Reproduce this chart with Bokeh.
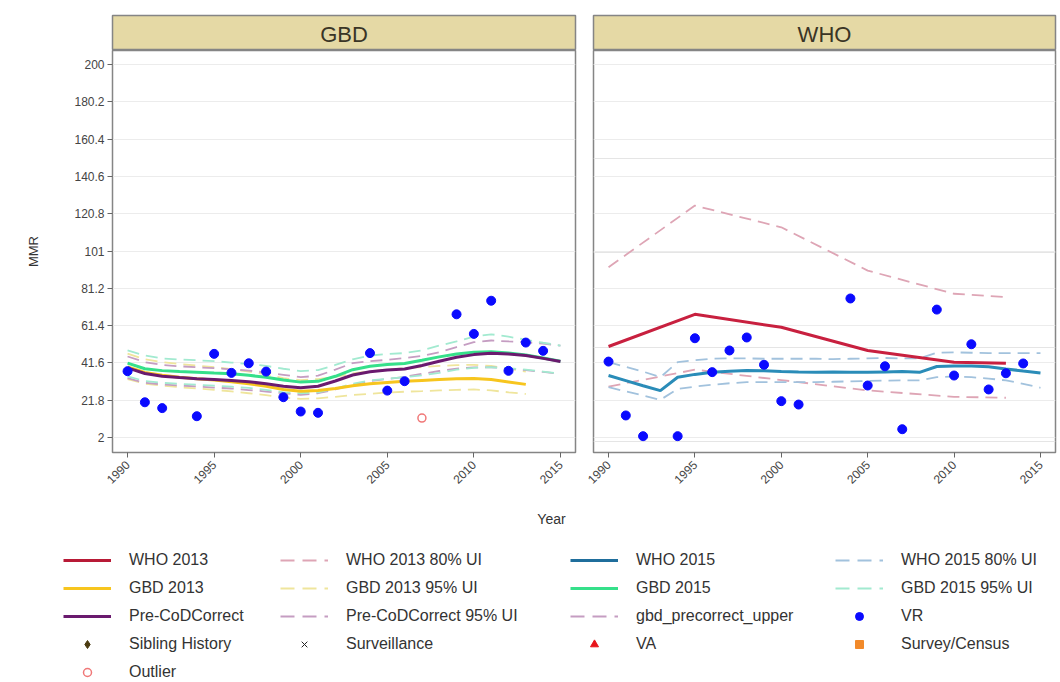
import math
from bokeh.plotting import figure
from bokeh.models import Range1d, FixedTicker, Label, Legend, LegendItem, Grid
from bokeh.layouts import column, row
from bokeh.embed import file_html
from bokeh.resources import INLINE

# ---------------- data ----------------
years = list(range(1990, 2016))
years_to_2013 = list(range(1990, 2014))

# GBD panel
pre_codcorrect = [39.0, 36.0, 34.5, 33.8, 33.2, 32.8, 32.3, 31.6, 30.5, 29.2, 28.4, 29.2, 32.0,
                  35.2, 36.9, 37.8, 38.4, 40.2, 42.5, 44.6, 46.0, 46.7, 46.3, 45.5, 44.0, 42.3]
pre_codcorrect_upper = [45.0, 42.0, 40.5, 39.8, 39.3, 38.8, 38.2, 37.5, 36.5, 35.3, 34.0, 34.8, 38.0,
                        41.5, 42.5, 43.2, 44.2, 45.3, 47.3, 50.0, 52.6, 53.5, 53.0, 52.6, 51.8, 50.8]
pre_codcorrect_lower = [33.5, 31.0, 30.2, 29.6, 29.1, 28.5, 28.0, 27.2, 26.4, 25.5, 24.6, 25.5, 27.5,
                        30.0, 32.0, 33.0, 34.2, 35.8, 37.3, 38.6, 39.2, 39.3, 38.6, 37.8, 36.8, 35.8]
gbd2015 = [41.5, 38.5, 37.5, 37.0, 36.7, 36.2, 35.8, 35.0, 34.0, 32.5, 31.4, 31.8, 34.5,
           38.0, 39.8, 40.8, 41.3, 43.0, 44.8, 46.3, 47.2, 47.5, 46.8, 45.8, 44.2, 42.5]
gbd2015_upper = [48.2, 45.5, 44.0, 43.4, 43.0, 42.5, 41.8, 41.0, 40.0, 38.5, 37.2, 37.8, 40.5,
                 43.5, 45.5, 46.3, 46.8, 48.2, 50.8, 53.0, 55.6, 56.8, 55.5, 53.9, 52.3, 50.8]
gbd2015_lower = [34.4, 32.0, 31.0, 30.5, 30.0, 29.5, 29.0, 28.3, 27.3, 26.0, 25.5, 26.0, 28.0,
                 30.5, 32.3, 33.2, 34.0, 35.0, 36.3, 38.0, 39.0, 39.3, 38.8, 38.0, 37.0, 35.8]
gbd2013 = [39.5, 36.5, 35.0, 34.0, 33.2, 32.5, 31.6, 30.5, 29.2, 27.5, 26.6, 27.0, 28.0,
           29.5, 30.5, 31.2, 31.8, 32.3, 32.8, 33.2, 33.3, 32.8, 31.5, 30.2]
gbd2013_upper = [46.5, 43.5, 42.0, 41.0, 40.2, 39.3, 38.3, 37.0, 35.5, 33.5, 32.5, 33.0, 34.2,
                 36.0, 37.2, 38.0, 38.8, 39.4, 40.0, 40.4, 40.6, 40.0, 38.5, 37.0]
gbd2013_lower = [33.0, 30.5, 29.5, 28.7, 28.0, 27.3, 26.5, 25.5, 24.5, 23.2, 22.5, 22.8, 23.6,
                 24.6, 25.2, 25.9, 26.3, 26.6, 27.0, 27.3, 27.5, 27.0, 26.0, 25.1]
gbd_vr_years = [1990, 1991, 1992, 1994, 1995, 1996, 1997, 1998, 1999, 2000, 2001, 2004, 2005,
                2006, 2009, 2010, 2011, 2012, 2013, 2014]
gbd_vr = [37.2, 20.7, 17.6, 13.3, 46.4, 36.3, 41.4, 37.0, 23.4, 15.8, 15.1, 46.8, 26.9,
          31.9, 67.4, 57.0, 74.6, 37.4, 52.4, 48.0]
gbd_outlier_years = [2007]
gbd_outlier = [12.3]

# WHO panel
who2013_years = [1990, 1995, 2000, 2005, 2010, 2013]
who2013 = [50.3, 67.4, 60.5, 48.2, 42.0, 41.4]
who2013_upper = [92.4, 125.1, 113.6, 90.6, 78.3, 76.5]
who2013_lower = [29.0, 38.0, 32.5, 27.0, 23.6, 23.1]
who2015 = [34.9, 32.2, 29.5, 26.9, 34.0, 35.5, 36.6, 37.2, 37.6, 37.4, 37.0, 36.8, 36.7,
           36.8, 36.7, 36.6, 36.8, 37.0, 36.6, 39.7, 40.0, 40.0, 39.6, 38.4, 37.3, 36.3]
who2015_upper = [42.0, 39.5, 37.0, 34.0, 42.0, 43.0, 43.8, 44.0, 44.0, 43.8, 43.8, 43.8, 43.8,
                 43.6, 43.8, 44.0, 44.2, 44.0, 44.0, 47.0, 47.2, 47.0, 46.8, 46.8, 46.8, 46.8]
who2015_lower = [28.7, 26.5, 24.3, 22.0, 27.8, 29.0, 30.0, 30.8, 31.4, 31.4, 31.4, 31.4, 31.4,
                 31.6, 31.8, 32.0, 32.2, 32.3, 32.3, 34.0, 34.4, 34.0, 33.3, 32.3, 30.5, 28.4]
who_vr_years = [1990, 1991, 1992, 1994, 1995, 1996, 1997, 1998, 1999, 2000, 2001, 2004, 2005,
                2006, 2007, 2009, 2010, 2011, 2012, 2013, 2014]
who_vr = [42.3, 13.7, 2.7, 2.7, 54.7, 36.7, 48.2, 55.1, 40.6, 21.3, 19.5, 75.8, 29.6,
          39.8, 6.4, 69.9, 34.9, 51.5, 27.5, 36.1, 41.3]

y_ticks = [2, 21.8, 41.6, 61.4, 81.2, 101, 120.8, 140.6, 160.4, 180.2, 200]
y_tick_labels = ["2", "21.8", "41.6", "61.4", "81.2", "101", "120.8", "140.6", "160.4", "180.2", "200"]
x_ticks = [1990, 1995, 2000, 2005, 2010, 2015]
x_tick_labels = ["1990", "1995", "2000", "2005", "2010", "2015"]
panel_titles = ["GBD", "WHO"]

# ---------------- styles ----------------
FONT = "Liberation Sans"
C_WHO13 = "#c8203f"
C_GBD13 = "#f7c51e"
C_PRE = "#6a1a6e"
C_WHO15 = "#2a8cb8"
C_GBD15 = "#35e08a"
C_WHO13_UI = "#dea5b5"
C_GBD13_UI = "#efe59c"
C_PRE_UI = "#c59dc2"
C_WHO15_UI = "#a2c2dd"
C_GBD15_UI = "#a2ead0"
C_VR = "#0a0aff"
C_OUT = "#f07878"
HEADER_BG = "#e5d9a5"
FRAME = "#858585"
GRID = "#ececec"
DASH = "12 7"
LEG_DASH = "14 8"

X0, X1 = 1989.13, 2015.87
Y0, Y1 = -5.96, 207.43
FRAME_H = 402
NAN = [float("nan")]


def style_common(p):
    p.outline_line_color = FRAME
    p.outline_line_width = 1.5
    xa = p.xaxis[0]
    xa.ticker = FixedTicker(ticks=x_ticks)
    xa.major_label_overrides = dict(zip(x_ticks, x_tick_labels))
    xa.major_label_orientation = math.pi / 4
    xa.major_label_text_font = FONT
    xa.major_label_text_font_size = "12px"
    xa.major_label_text_color = "#444444"
    xa.axis_line_color = FRAME
    xa.major_tick_line_color = "#666666"
    xa.major_tick_out = 5
    xa.major_tick_in = 0
    xa.minor_tick_line_color = None
    p.xgrid.visible = False


def make_panel(title, frame_w, left_b, right_b, show_y):
    hdr = figure(frame_width=frame_w, frame_height=35, x_range=Range1d(0, 1), y_range=Range1d(0, 1),
                 output_backend="svg", toolbar_location=None, x_axis_location=None, y_axis_location=None,
                 min_border_left=left_b, min_border_right=right_b, min_border_top=15, min_border_bottom=0,
                 background_fill_color=HEADER_BG, border_fill_color="white",
                 outline_line_color=FRAME, outline_line_width=1.5)
    hdr.grid.visible = False
    hdr.add_layout(Label(x=0.5, y=0.45, text=title, text_align="center", text_baseline="middle",
                         text_font=FONT, text_font_size="22px", text_color="#3a3526"))

    p = figure(frame_width=frame_w, frame_height=FRAME_H, x_range=Range1d(X0, X1), y_range=Range1d(Y0, Y1),
               output_backend="svg", toolbar_location=None,
               y_axis_location="left" if show_y else None,
               min_border_left=left_b, min_border_right=right_b, min_border_top=0, min_border_bottom=58,
               background_fill_color="white", border_fill_color="white")
    style_common(p)
    if show_y:
        ya = p.yaxis[0]
        ya.ticker = FixedTicker(ticks=y_ticks)
        ya.major_label_overrides = dict(zip(y_ticks, y_tick_labels))
        ya.major_label_text_font = FONT
        ya.major_label_text_font_size = "12px"
        ya.major_label_text_color = "#444444"
        ya.major_label_standoff = 3
        ya.axis_line_color = FRAME
        ya.major_tick_line_color = "#666666"
        ya.major_tick_out = 5
        ya.major_tick_in = 0
        ya.minor_tick_line_color = None
        ya.axis_label = "MMR"
        ya.axis_label_text_font = FONT
        ya.axis_label_text_font_size = "13px"
        ya.axis_label_text_font_style = "normal"
        ya.axis_label_text_color = "#333333"
        ya.axis_label_standoff = 30
        p.ygrid.grid_line_color = GRID
    else:
        p.add_layout(Grid(dimension=1, ticker=FixedTicker(ticks=y_ticks), grid_line_color=GRID))
    return hdr, p


hdr_l, p_l = make_panel(panel_titles[0], 463, 112, 9, True)
hdr_r, p_r = make_panel(panel_titles[1], 462, 9, 2, False)

# GBD panel glyphs
for ys, xs, c in [(gbd2013_upper, years_to_2013, C_GBD13_UI), (gbd2013_lower, years_to_2013, C_GBD13_UI),
                  (pre_codcorrect_lower, years, C_PRE_UI), (pre_codcorrect_upper, years, C_PRE_UI),
                  (gbd2015_lower, years, C_GBD15_UI), (gbd2015_upper, years, C_GBD15_UI)]:
    p_l.line(xs, ys, line_color=c, line_width=1.8, line_dash=DASH)
p_l.line(years_to_2013, gbd2013, line_color=C_GBD13, line_width=3)
p_l.line(years, gbd2015, line_color=C_GBD15, line_width=3)
p_l.line(years, pre_codcorrect, line_color=C_PRE, line_width=3)
p_l.scatter(gbd_vr_years, gbd_vr, marker="circle", size=9, fill_color=C_VR, line_color=C_VR)
p_l.scatter(gbd_outlier_years, gbd_outlier, marker="circle", size=8, fill_color=None,
            line_color=C_OUT, line_width=1.5)

# WHO panel glyphs
for ys, xs, c in [(who2013_upper, who2013_years, C_WHO13_UI), (who2013_lower, who2013_years, C_WHO13_UI),
                  (who2015_upper, years, C_WHO15_UI), (who2015_lower, years, C_WHO15_UI)]:
    p_r.line(xs, ys, line_color=c, line_width=1.8, line_dash=DASH)
p_r.line(who2013_years, who2013, line_color=C_WHO13, line_width=3)
p_r.line(years, who2015, line_color=C_WHO15, line_width=3)
p_r.scatter(who_vr_years, who_vr, marker="circle", size=9, fill_color=C_VR, line_color=C_VR)

# ---------------- legend ----------------
LW, LH = 1057, 170
leg = figure(width=LW, height=LH, x_range=Range1d(0, LW), y_range=Range1d(0, LH),
             output_backend="svg", toolbar_location=None, x_axis_location=None, y_axis_location=None,
             min_border=0, outline_line_color=None, background_fill_color="white",
             border_fill_color="white")
leg.grid.visible = False
leg.add_layout(Label(x=551, y=LH - 8, text="Year", text_align="center", text_baseline="middle",
                     text_font=FONT, text_font_size="14px", text_color="#333333"))


def lline(color, dash=False, width=3):
    if dash:
        return leg.line(x=NAN, y=NAN, line_color=color, line_width=1.8, line_dash=LEG_DASH)
    return leg.line(x=NAN, y=NAN, line_color=color, line_width=width)


def lmark(marker, color, size, fill=True, lw=1.0):
    return leg.scatter(x=NAN, y=NAN, marker=marker, size=size,
                       fill_color=color if fill else None, line_color=color, line_width=lw)


columns_spec = [
    (63, [("WHO 2013", lline("#b81a36")), ("GBD 2013", lline(C_GBD13)),
          ("Pre-CoDCorrect", lline(C_PRE)), ("Sibling History", lmark("diamond", "#4b3b10", 16)),
          ("Outlier", lmark("circle", C_OUT, 7, fill=False, lw=1.5))]),
    (280, [("WHO 2013 80% UI", lline(C_WHO13_UI, True)), ("GBD 2013 95% UI", lline(C_GBD13_UI, True)),
           ("Pre-CoDCorrect 95% UI", lline(C_PRE_UI, True)), ("Surveillance", lmark("x", "#222222", 6))]),
    (570, [("WHO 2015", lline("#1f6e9c")), ("GBD 2015", lline(C_GBD15)),
           ("gbd_precorrect_upper", lline(C_PRE_UI, True)), ("VA", lmark("triangle", "#e8141b", 10))]),
    (835, [("WHO 2015 80% UI", lline(C_WHO15_UI, True)), ("GBD 2015 95% UI", lline(C_GBD15_UI, True)),
           ("VR", lmark("circle", C_VR, 9)), ("Survey/Census", lmark("square", "#f28a2a", 8))]),
]

ROW_TOP = 40
ITEM_H = 20
SPACING = 8
for x, items in columns_spec:
    n = len(items)
    h = n * ITEM_H + (n - 1) * SPACING
    bottom = LH - (ROW_TOP + h)
    legend = Legend(items=[LegendItem(label=lab, renderers=[r]) for lab, r in items],
                    location=(x, bottom), orientation="vertical",
                    glyph_width=48, glyph_height=ITEM_H, label_height=ITEM_H, label_standoff=18,
                    spacing=SPACING, padding=0, margin=0, border_line_color=None,
                    background_fill_alpha=0, label_text_font=FONT, label_text_font_size="16px",
                    label_text_color="#333333")
    leg.add_layout(legend)

layout = column(row(column(hdr_l, p_l), column(hdr_r, p_r)), leg)

with open("out.html", "w") as f:
    f.write(file_html(layout, INLINE))
